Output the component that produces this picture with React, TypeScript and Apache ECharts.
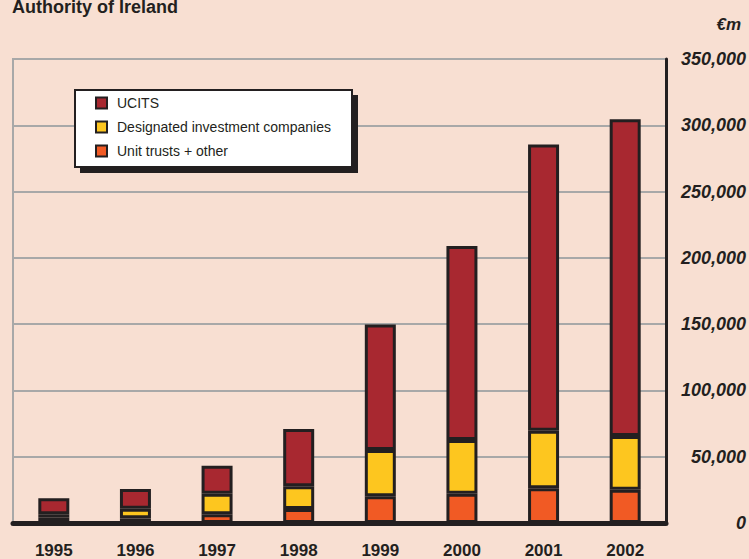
import React, { useEffect, useRef } from "react";
import * as echarts from "echarts";

const years = ["1995", "1996", "1997", "1998", "1999", "2000", "2001", "2002"];
const unitTrusts = [4000, 3500, 6600, 10600, 20100, 22100, 26200, 25100];
const designated = [2600, 7200, 15500, 17100, 34900, 40500, 43400, 40500];
const ucits = [12100, 14900, 21100, 43200, 94800, 146300, 216000, 239000];
const yMax = 350000;
const yInterval = 50000;

const seriesNames = ["UCITS", "Designated investment companies", "Unit trusts + other"];

const INK = "#231F20";
const BG = "#F8DFD2";
const GRID = "#A8A8A8";
const FONT = "'Liberation Sans', Arial, Helvetica, sans-serif";

export default function App() {
  const ref = useRef<HTMLDivElement>(null);
  useEffect(() => {
    if (!ref.current) return;
    const chart = echarts.init(ref.current, undefined, { renderer: "svg" });
    const barStyle = (color: string) => ({
      color,
      borderColor: INK,
      borderWidth: 3,
    });
    chart.setOption({
      animation: false,
      backgroundColor: BG,
      textStyle: { fontFamily: FONT },
      grid: {
        left: 13,
        right: 83,
        top: 59,
        bottom: 36,
        show: true,
        borderColor: GRID,
        borderWidth: 2,
        backgroundColor: "transparent",
      },
      legend: {
        data: seriesNames,
        orient: "vertical",
        left: 95,
        top: 96,
        padding: 0,
        itemGap: 10,
        itemWidth: 11,
        itemHeight: 11,
        icon: "rect",
        itemStyle: { borderWidth: 2, borderColor: INK },
        textStyle: {
          fontFamily: FONT,
          fontSize: 14,
          color: INK,
          padding: [0, 0, 0, 5],
        },
        z: 20,
        selectedMode: false,
      },
      xAxis: {
        type: "category",
        data: years,
        axisLine: { show: true, lineStyle: { color: INK, width: 5 } },
        axisTick: { show: false },
        axisLabel: {
          margin: 19,
          fontFamily: FONT,
          fontSize: 17,
          fontWeight: "bold",
          color: INK,
        },
        splitLine: { show: false },
        z: 6,
      },
      yAxis: {
        type: "value",
        position: "right",
        min: 0,
        max: yMax,
        interval: yInterval,
        axisLine: { show: true, lineStyle: { color: INK, width: 3 } },
        axisTick: { show: false },
        splitLine: { show: true, lineStyle: { color: GRID, width: 2 } },
        axisLabel: {
          align: "right",
          margin: 80,
          fontFamily: FONT,
          fontSize: 18,
          fontWeight: "bold",
          fontStyle: "italic",
          color: INK,
          formatter: (v: number) => v.toLocaleString("en-US"),
        },
      },
      graphic: [
        {
          type: "text",
          left: 12,
          top: -2,
          z: 30,
          style: {
            text: "Authority of Ireland",
            font: `bold 18px ${FONT}`,
            fill: INK,
          },
        },
        {
          type: "text",
          right: 8,
          top: 16,
          z: 30,
          style: {
            text: "€m",
            font: `italic bold 17px ${FONT}`,
            fill: INK,
          },
        },
        {
          type: "rect",
          z: 10,
          shape: { x: 80, y: 95, width: 278, height: 78 },
          style: { fill: INK },
        },
        {
          type: "rect",
          z: 11,
          shape: { x: 75, y: 90, width: 277, height: 77 },
          style: { fill: "#FFFFFF", stroke: INK, lineWidth: 2 },
        },
      ],
      series: [
        {
          name: "Unit trusts + other",
          type: "bar",
          stack: "total",
          barWidth: 31,
          data: unitTrusts,
          itemStyle: barStyle("#F15A24"),
        },
        {
          name: "Designated investment companies",
          type: "bar",
          stack: "total",
          barWidth: 31,
          data: designated,
          itemStyle: barStyle("#FDC61F"),
        },
        {
          name: "UCITS",
          type: "bar",
          stack: "total",
          barWidth: 31,
          data: ucits,
          itemStyle: barStyle("#A82830"),
        },
      ],
    });
    return () => chart.dispose();
  }, []);
  return (
    <div
      ref={ref}
      style={{ position: "fixed", left: 0, top: 0, width: 749, height: 559 }}
    />
  );
}
